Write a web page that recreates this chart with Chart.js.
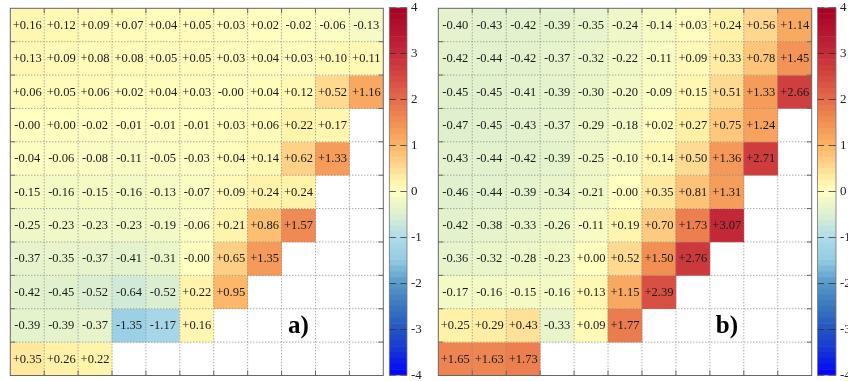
<!DOCTYPE html>
<html>
<head>
<meta charset="utf-8">
<script src="https://cdn.jsdelivr.net/npm/chart.js@4/dist/chart.umd.min.js"></script>
<style>
  html, body { margin: 0; padding: 0; background: #fff; overflow: hidden; width: 848px; height: 381px; }
  canvas { position: absolute; top: 0; }
</style>
</head>
<body>
<canvas id="heatA" width="392" height="381" style="left:0"></canvas>
<canvas id="cbarA" width="53" height="391" style="left:384px;top:-4px"></canvas>
<canvas id="heatB" width="392" height="381" style="left:430px"></canvas>
<canvas id="cbarB" width="54" height="391" style="left:812px;top:-4px"></canvas>
<script>
// Grid columns (left to right) and rows (top to bottom)
const columns = ['1', '2', '3', '4', '5', '6', '7', '8', '9', '10', '11'];

// Panel a) values, one array per row; rows end where the triangle ends
const rowA0  = [+0.16, +0.12, +0.09, +0.07, +0.04, +0.05, +0.03, +0.02, -0.02, -0.06, -0.13];
const rowA1  = [+0.13, +0.09, +0.08, +0.08, +0.05, +0.05, +0.03, +0.04, +0.03, +0.10, +0.11];
const rowA2  = [+0.06, +0.05, +0.06, +0.02, +0.04, +0.03, -0.00, +0.04, +0.12, +0.52, +1.16];
const rowA3  = [-0.00, +0.00, -0.02, -0.01, -0.01, -0.01, +0.03, +0.06, +0.22, +0.17];
const rowA4  = [-0.04, -0.06, -0.08, -0.11, -0.05, -0.03, +0.04, +0.14, +0.62, +1.33];
const rowA5  = [-0.15, -0.16, -0.15, -0.16, -0.13, -0.07, +0.09, +0.24, +0.24];
const rowA6  = [-0.25, -0.23, -0.23, -0.23, -0.19, -0.06, +0.21, +0.86, +1.57];
const rowA7  = [-0.37, -0.35, -0.37, -0.41, -0.31, -0.00, +0.65, +1.35];
const rowA8  = [-0.42, -0.45, -0.52, -0.64, -0.52, +0.22, +0.95];
const rowA9  = [-0.39, -0.39, -0.37, -1.35, -1.17, +0.16];
const rowA10 = [+0.35, +0.26, +0.22];

// Panel b) values
const rowB0  = [-0.40, -0.43, -0.42, -0.39, -0.35, -0.24, -0.14, +0.03, +0.24, +0.56, +1.14];
const rowB1  = [-0.42, -0.44, -0.42, -0.37, -0.32, -0.22, -0.11, +0.09, +0.33, +0.78, +1.45];
const rowB2  = [-0.45, -0.45, -0.41, -0.39, -0.30, -0.20, -0.09, +0.15, +0.51, +1.33, +2.66];
const rowB3  = [-0.47, -0.45, -0.43, -0.37, -0.29, -0.18, +0.02, +0.27, +0.75, +1.24];
const rowB4  = [-0.43, -0.44, -0.42, -0.39, -0.25, -0.10, +0.14, +0.50, +1.36, +2.71];
const rowB5  = [-0.46, -0.44, -0.39, -0.34, -0.21, -0.00, +0.35, +0.81, +1.31];
const rowB6  = [-0.42, -0.38, -0.33, -0.26, -0.11, +0.19, +0.70, +1.73, +3.07];
const rowB7  = [-0.36, -0.32, -0.28, -0.23, +0.00, +0.52, +1.50, +2.76];
const rowB8  = [-0.17, -0.16, -0.15, -0.16, +0.13, +1.15, +2.39];
const rowB9  = [+0.25, +0.29, +0.43, -0.33, +0.09, +1.77];
const rowB10 = [+1.65, +1.63, +1.73];

const rowsA = [rowA0, rowA1, rowA2, rowA3, rowA4, rowA5, rowA6, rowA7, rowA8, rowA9, rowA10];
const rowsB = [rowB0, rowB1, rowB2, rowB3, rowB4, rowB5, rowB6, rowB7, rowB8, rowB9, rowB10];

// Colour bar range and tick values
const cbarMin = -4, cbarMax = 4;
const cbarTicks = [-4, -3, -2, -1, 0, 1, 2, 3, 4];

// Diverging colour map: blue (negative) - pale yellow (0) - dark red (positive)
const cmap = [
  [-4.0, [0, 0, 255]], [-3.5, [22, 50, 214]], [-3.0, [36, 84, 192]], [-2.5, [58, 120, 190]],
  [-2.0, [88, 152, 201]], [-1.5, [148, 203, 226]], [-1.0, [176, 220, 233]], [-0.5, [222, 239, 208]],
  [0.0, [255, 255, 192]], [0.25, [255, 242, 168]], [0.5, [254, 219, 146]], [1.0, [251, 180, 102]],
  [1.5, [242, 143, 85]], [2.0, [228, 107, 75]], [2.5, [212, 72, 65]], [3.0, [197, 43, 58]],
  [3.5, [180, 20, 47]], [4.0, [165, 0, 38]]
];
function colorFor(v) {
  v = Math.max(cbarMin, Math.min(cbarMax, v));
  for (let i = 1; i < cmap.length; i++) {
    const [v1, c1] = cmap[i];
    const [v0, c0] = cmap[i - 1];
    if (v <= v1) {
      const t = (v - v0) / (v1 - v0);
      const c = c0.map((x, k) => Math.round(x + (c1[k] - x) * t));
      return `rgb(${c[0]},${c[1]},${c[2]})`;
    }
  }
  return 'rgb(165,0,38)';
}

function fmt(v) {
  const neg = v < 0 || Object.is(v, -0);
  return (neg ? '-' : '+') + Math.abs(v).toFixed(2);
}

const SERIF = '"Liberation Serif", "DejaVu Serif", serif';

// Dotted cell grid, inward ticks, frame, cell labels and panel letter
const heatDecor = {
  id: 'heatDecor',
  afterDatasetsDraw(chart, args, opts) {
    const ctx = chart.ctx;
    const xs = chart.scales.x, ys = chart.scales.y;
    const { left, right, top, bottom } = chart.chartArea;
    const n = columns.length;
    const xb = [];
    for (let i = 0; i <= n; i++) {
      if (i === 0) xb.push(left);
      else if (i === n) xb.push(right);
      else xb.push((xs.getPixelForValue(i - 1) + xs.getPixelForValue(i)) / 2);
    }
    const yb = [];
    for (let i = 0; i <= n; i++) yb.push(ys.getPixelForValue(i));

    ctx.save();
    ctx.strokeStyle = '#888';
    ctx.lineWidth = 1;
    ctx.setLineDash([1, 2]);
    for (let i = 1; i < n; i++) {
      ctx.beginPath(); ctx.moveTo(xb[i], top); ctx.lineTo(xb[i], bottom); ctx.stroke();
      ctx.beginPath(); ctx.moveTo(left, yb[i]); ctx.lineTo(right, yb[i]); ctx.stroke();
    }
    ctx.setLineDash([]);
    ctx.strokeStyle = '#666';
    const tl = 5;
    for (let i = 1; i < n; i++) {
      ctx.beginPath();
      ctx.moveTo(xb[i], top); ctx.lineTo(xb[i], top + tl);
      ctx.moveTo(xb[i], bottom); ctx.lineTo(xb[i], bottom - tl);
      ctx.moveTo(left, yb[i]); ctx.lineTo(left + tl, yb[i]);
      ctx.moveTo(right, yb[i]); ctx.lineTo(right - tl, yb[i]);
      ctx.stroke();
    }
    ctx.strokeRect(left, top, right - left, bottom - top);

    ctx.fillStyle = '#1a1a1a';
    ctx.font = '12.5px ' + SERIF;
    ctx.textAlign = 'center';
    ctx.textBaseline = 'middle';
    opts.rows.forEach((vals, r) => {
      const cy = ys.getPixelForValue(r + 0.5);
      vals.forEach((v, c) => {
        ctx.fillText(fmt(v), xs.getPixelForValue(c), cy + 0.5);
      });
    });

    ctx.fillStyle = '#000';
    ctx.font = 'bold 25px ' + SERIF;
    ctx.fillText(opts.letter, xs.getPixelForValue(8), ys.getPixelForValue(9.5) + 1);
    ctx.restore();
  }
};

function heatConfig(rows, letter, padding) {
  const datasets = rows.map((vals, r) => ({
    data: columns.map((_, c) => (c < vals.length ? [r, r + 1] : null)),
    backgroundColor: columns.map((_, c) => (c < vals.length ? colorFor(vals[c]) : 'rgba(0,0,0,0)')),
    borderWidth: 0,
    grouped: false,
    barPercentage: 1,
    categoryPercentage: 1
  }));
  return {
    type: 'bar',
    data: { labels: columns, datasets },
    options: {
      responsive: false,
      animation: false,
      events: [],
      layout: { padding },
      plugins: {
        legend: { display: false },
        tooltip: { enabled: false },
        heatDecor: { rows, letter }
      },
      scales: {
        x: { type: 'category', display: false },
        y: { type: 'linear', min: 0, max: 11, reverse: true, display: false }
      }
    },
    plugins: [heatDecor]
  };
}

// Frame around the colour bar
const cbarFrame = {
  id: 'cbarFrame',
  afterDraw(chart) {
    const { left, right, top, bottom } = chart.chartArea;
    const ctx = chart.ctx;
    ctx.save();
    ctx.strokeStyle = '#777';
    ctx.lineWidth = 0.8;
    ctx.strokeRect(left, top, right - left, bottom - top);
    ctx.restore();
  }
};

function cbarConfig(padding) {
  const nBands = 64;
  const step = (cbarMax - cbarMin) / nBands;
  const datasets = [];
  for (let i = 0; i < nBands; i++) {
    const lo = cbarMin + i * step, hi = lo + step;
    datasets.push({
      data: [[lo, hi]],
      backgroundColor: colorFor((lo + hi) / 2),
      borderWidth: 0,
      grouped: false,
      barPercentage: 1,
      categoryPercentage: 1
    });
  }
  return {
    type: 'bar',
    data: { labels: ['scale'], datasets },
    options: {
      responsive: false,
      animation: false,
      events: [],
      layout: { padding },
      plugins: { legend: { display: false }, tooltip: { enabled: false } },
      scales: {
        x: { type: 'category', display: false },
        y: {
          type: 'linear',
          position: 'right',
          min: cbarMin,
          max: cbarMax,
          afterFit(scale) { scale.width = 30; },
          afterBuildTicks(scale) { scale.ticks = cbarTicks.map(v => ({ value: v })); },
          ticks: { padding: 4, color: '#222', font: { family: SERIF, size: 13 } },
          grid: { z: 1, drawTicks: false, color: 'rgba(45,45,45,0.75)', lineWidth: 1 },
          border: { display: false, dash: [6.5, 4.5, 8, 100] }
        }
      }
    },
    plugins: [cbarFrame]
  };
}

new Chart(document.getElementById('heatA'), heatConfig(rowsA, 'a)', { left: 10.3, top: 8.3, right: 8.7, bottom: 5.5 }));
new Chart(document.getElementById('heatB'), heatConfig(rowsB, 'b)', { left: 8.3, top: 8.3, right: 10.3, bottom: 5.5 }));
new Chart(document.getElementById('cbarA'), cbarConfig({ left: 5.3, top: 0, right: 0, bottom: 0 }));
new Chart(document.getElementById('cbarB'), cbarConfig({ left: 5.5, top: 0, right: 0, bottom: 0 }));
</script>
</body>
</html>
